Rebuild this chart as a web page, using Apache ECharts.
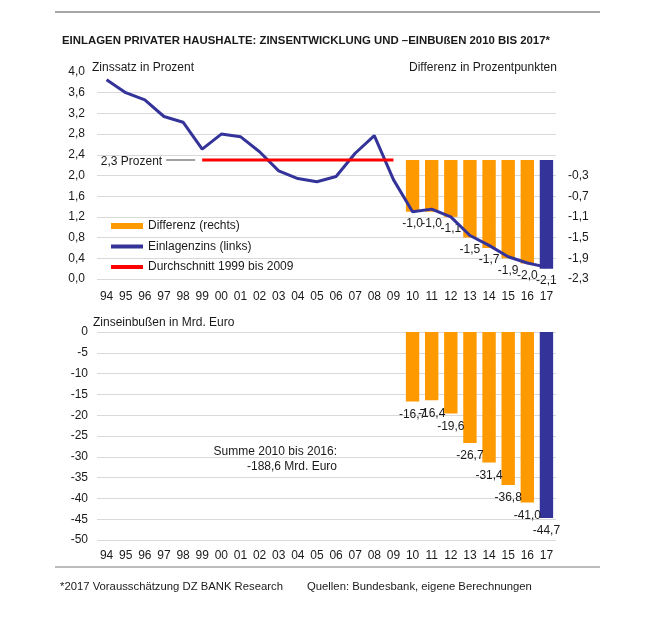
<!DOCTYPE html>
<html><head><meta charset="utf-8">
<script src="https://cdn.jsdelivr.net/npm/echarts/dist/echarts.min.js"></script>
<style>html,body{margin:0;padding:0;background:#fff}#c{width:655px;height:638px}</style>
</head><body><div id="c"></div>
<script>
// ---- data ----
const years = ['94','95','96','97','98','99','00','01','02','03','04','05','06','07','08','09','10','11','12','13','14','15','16','17'];
const zinsRate = [3.85,3.60,3.46,3.14,3.03,2.51,2.80,2.75,2.46,2.09,1.94,1.88,1.98,2.43,2.77,1.92,1.30,1.35,1.20,0.84,0.65,0.43,0.31,0.23];
const avgValue = 2.3;
const avgFrom = '99';
const avgTo = '09';
const diffYears = ['10','11','12','13','14','15','16','17'];
const diffValues = [-1.0,-1.0,-1.1,-1.5,-1.7,-1.9,-2.0,-2.1];
const lossValues = [-16.7,-16.4,-19.6,-26.7,-31.4,-36.8,-41.0,-44.7];
const forecastYear = '17';
const seriesNames = ['Differenz (rechts)','Einlagenzins (links)','Durchschnitt 1999 bis 2009'];

// ---- styling ----
const FONT = '"Liberation Sans", Arial, sans-serif';
const TXT = '#1a1a1a';
const ORANGE = '#FF9900', BLUE = '#333399', RED = '#FF0000', GRID = '#d9d9d9';
const fmt = v => (Math.round(v*10)/10).toFixed(1).replace('.', ',');

const iFrom = years.indexOf(avgFrom), iTo = years.indexOf(avgTo);
const avgData = years.map((y,i) => (i>=iFrom && i<=iTo) ? avgValue : '-');
function barData(vals){
  return years.map(y => {
    const k = diffYears.indexOf(y);
    if (k < 0) return '-';
    if (y === forecastYear) return {value: vals[k], itemStyle:{color: BLUE}};
    return vals[k];
  });
}

const chart = echarts.init(document.getElementById('c'), null, {renderer:'canvas'});

const catAxis = (gi, m) => ({
  type:'category', gridIndex: gi, data: years,
  axisLine:{show:false}, axisTick:{show:false},
  axisLabel:{interval:0, margin:m, fontSize:12, color:TXT, fontFamily:FONT}
});
const legendBase = (name, top, h) => ({
  data:[name], left:111, top: top, orient:'vertical', padding:0,
  itemWidth:32, itemHeight:h, icon:'rect', selectedMode:false,
  itemStyle:{borderWidth:0},
  textStyle:{fontSize:12, color:TXT, fontFamily:FONT}
});

const option = {
  animation:false,
  textStyle:{fontFamily:FONT},
  grid:[
    {left:97, width:459, top:72, height:207},
    {left:97, width:459, top:332, height:208}
  ],
  xAxis:[catAxis(0, 12), catAxis(1, 10)],
  yAxis:[
    {type:'value', gridIndex:0, min:0, max:4, interval:0.4,
     axisLine:{show:false}, axisTick:{show:false},
     splitLine:{show:true, showMaxLine:false, lineStyle:{color:GRID, width:1}},
     axisLabel:{margin:12, fontSize:12, color:TXT, fontFamily:FONT, formatter: v => fmt(v)}},
    {type:'value', gridIndex:0, position:'right', min:-2.3, max:1.7, interval:0.4,
     axisLine:{show:false}, axisTick:{show:false}, splitLine:{show:false},
     axisLabel:{margin:12, fontSize:12, color:TXT, fontFamily:FONT,
       formatter: v => (v > -0.25 ? '' : fmt(v))}},
    {type:'value', gridIndex:1, min:-50, max:0, interval:5,
     axisLine:{show:false}, axisTick:{show:false},
     splitLine:{show:true, lineStyle:{color:GRID, width:1}},
     axisLabel:{margin:9, fontSize:12, color:TXT, fontFamily:FONT}}
  ],
  legend:[
    legendBase(seriesNames[0], 220, 6),
    legendBase(seriesNames[1], 240.5, 4),
    legendBase(seriesNames[2], 261, 4)
  ],
  series:[
    {name:seriesNames[0], type:'bar', xAxisIndex:0, yAxisIndex:1, data: barData(diffValues),
     barWidth:'70%', itemStyle:{color:ORANGE},
     label:{show:true, position:'bottom', distance:6, fontSize:12, color:TXT, fontFamily:FONT,
            formatter: p => fmt(p.value)}},
    {name:seriesNames[1], type:'line', xAxisIndex:0, yAxisIndex:0, data: zinsRate,
     symbol:'none', lineStyle:{color:BLUE, width:3}, itemStyle:{color:BLUE}, z:3},
    {name:seriesNames[2], type:'line', xAxisIndex:0, yAxisIndex:0, data: avgData,
     symbol:'none', lineStyle:{color:RED, width:3}, itemStyle:{color:RED}, z:4},
    {name:'Zinseinbußen', type:'bar', xAxisIndex:1, yAxisIndex:2, data: barData(lossValues),
     barWidth:'70%', itemStyle:{color:ORANGE},
     label:{show:true, position:'bottom', distance:7, fontSize:12, color:TXT, fontFamily:FONT,
            formatter: p => fmt(p.value)}}
  ]
};
chart.setOption(option);

function txt(text, x, y, opts){
  opts = opts || {};
  return {type:'text', silent:true, z:10, style:Object.assign({
    text:text, x:x, y:y, fill:TXT, fontSize:12, fontFamily:FONT,
    textAlign:'left', align:'left', textVerticalAlign:'middle', verticalAlign:'middle'
  }, opts)};
}
const p = chart.convertToPixel({xAxisIndex:0, yAxisIndex:0}, [avgFrom, avgValue]);
chart.setOption({graphic:[
  {type:'line', silent:true, shape:{x1:55, y1:12, x2:600, y2:12}, style:{stroke:'#a6a6a6', lineWidth:2}},
  {type:'line', silent:true, shape:{x1:55, y1:567, x2:600, y2:567}, style:{stroke:'#a6a6a6', lineWidth:1.5}},
  txt('EINLAGEN PRIVATER HAUSHALTE: ZINSENTWICKLUNG UND –EINBUßEN 2010 BIS 2017*', 62, 41, {fontWeight:'bold', fontSize:11.4}),
  txt('Zinssatz in Prozent', 92, 68),
  txt('Differenz in Prozentpunkten', 409, 68),
  txt('Zinseinbußen in Mrd. Euro', 93, 323),
  txt('Summe 2010 bis 2016:\n-188,6 Mrd. Euro', 337, 459, {textAlign:'right', align:'right', lineHeight:14.5}),
  {type:'line', silent:true, shape:{x1:p[0]-36, y1:p[1], x2:p[0]-7, y2:p[1]}, style:{stroke:'#a0a0a0', lineWidth:2}},
  txt('2,3 Prozent', p[0]-40, p[1]+2, {textAlign:'right', align:'right'}),
  txt('*2017 Vorausschätzung DZ BANK Research', 60, 587, {fontSize:11.3}),
  txt('Quellen: Bundesbank, eigene Berechnungen', 307, 587, {fontSize:11.3})
]});
</script></body></html>
